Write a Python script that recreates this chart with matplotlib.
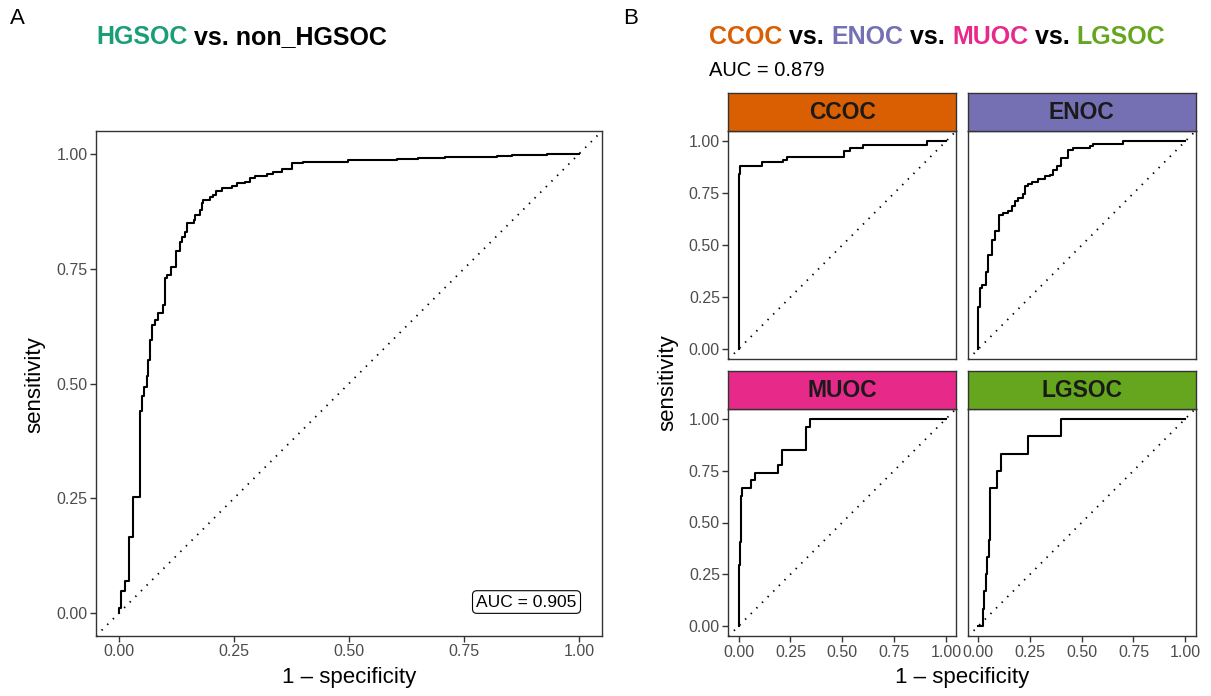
import matplotlib as mpl
mpl.use('Agg')
import matplotlib.pyplot as plt

mpl.rc('font', family=['Liberation Sans', 'DejaVu Sans'])

# ROC curves (1 - specificity, sensitivity)
hgsoc_fpr = [0, 0, 0.004, 0.013, 0.022, 0.031, 0.046, 0.051, 0.054, 0.060, 0.064,
             0.067, 0.072, 0.078, 0.085, 0.096, 0.100, 0.105, 0.112, 0.124, 0.133,
             0.137, 0.143, 0.147, 0.162, 0.165, 0.175, 0.180, 0.183, 0.198, 0.205,
             0.211, 0.223, 0.245, 0.256, 0.274, 0.285, 0.296, 0.321, 0.335, 0.354,
             0.375, 0.401, 0.455, 0.498, 0.604, 0.651, 0.709, 0.821, 0.854, 0.930, 1.0]
hgsoc_tpr = [0, 0.011, 0.048, 0.070, 0.166, 0.253, 0.441, 0.473, 0.493, 0.517, 0.551,
             0.595, 0.627, 0.638, 0.653, 0.671, 0.729, 0.736, 0.754, 0.789, 0.809,
             0.820, 0.831, 0.849, 0.856, 0.867, 0.878, 0.893, 0.900, 0.906, 0.911,
             0.919, 0.925, 0.930, 0.936, 0.940, 0.947, 0.952, 0.956, 0.961, 0.967,
             0.980, 0.982, 0.983, 0.986, 0.989, 0.992, 0.994, 0.996, 0.998, 1.0, 1.0]

ccoc_fpr = [0, 0, 0.005, 0.114, 0.214, 0.233, 0.507, 0.536, 0.600, 0.907, 1.0]
ccoc_tpr = [0, 0.843, 0.883, 0.899, 0.912, 0.927, 0.955, 0.966, 0.982, 1.0, 1.0]

enoc_fpr = [0, 0, 0.008, 0.019, 0.036, 0.048, 0.068, 0.081, 0.100, 0.121,
            0.145, 0.162, 0.178, 0.194, 0.215, 0.226, 0.242, 0.261, 0.290, 0.323,
            0.347, 0.360, 0.379, 0.399, 0.435, 0.460, 0.540, 0.552, 0.701, 1.0]
enoc_tpr = [0, 0.203, 0.294, 0.310, 0.371, 0.451, 0.523, 0.566, 0.647, 0.656,
            0.667, 0.688, 0.711, 0.726, 0.747, 0.784, 0.795, 0.803, 0.819, 0.832,
            0.839, 0.863, 0.883, 0.918, 0.959, 0.968, 0.979, 0.987, 1.0, 1.0]

muoc_fpr = [0, 0, 0.005, 0.010, 0.016, 0.061, 0.081, 0.190, 0.211, 0.324, 0.343, 1.0]
muoc_tpr = [0, 0.296, 0.407, 0.630, 0.667, 0.704, 0.741, 0.778, 0.852, 0.963, 1.0, 1.0]

lgsoc_fpr = [0, 0.021, 0.028, 0.037, 0.044, 0.053, 0.057, 0.089, 0.110, 0.239, 0.402, 1.0]
lgsoc_tpr = [0, 0.083, 0.167, 0.250, 0.333, 0.417, 0.667, 0.750, 0.833, 0.917, 1.0, 1.0]

auc_a = 0.905
auc_b = 0.879

ticks = [0, 0.25, 0.5, 0.75, 1.0]
tick_labels = ['0.00', '0.25', '0.50', '0.75', '1.00']

cols = {'HGSOC': '#1B9E77', 'CCOC': '#D95F02', 'ENOC': '#7570B3',
        'MUOC': '#E7298A', 'LGSOC': '#66A61E'}

W, H = 1211, 696
fig = plt.figure(figsize=(W/100, H/100), dpi=100)

def box(x0, y0, x1, y1):
    # pixel box (top-left origin) -> figure fraction rect
    return [x0/W, 1 - y1/H, (x1-x0)/W, (y1-y0)/H]

border = '#333333'

def roc_axes(ax, fpr, tpr, xt=True, yt=True):
    ax.axline((0, 0), (1, 1), color='black', lw=1.3, ls=(0, (0.8, 3.6)))
    ax.step(fpr, tpr, where='post', color='black', lw=1.5)
    ax.set(xlim=(-0.05, 1.05), ylim=(-0.05, 1.05))
    for s in ax.spines.values():
        s.set_color(border)
        s.set_linewidth(1.0)
    ax.tick_params(length=4, width=1.0, color=border, labelcolor='#4D4D4D',
                   labelsize=11.5, pad=2)
    if xt:
        ax.set_xticks(ticks, tick_labels)
    else:
        ax.set_xticks([])
    if yt:
        ax.set_yticks(ticks, tick_labels)
    else:
        ax.set_yticks([])

def color_title(x, y, parts, **kw):
    r = fig.canvas.get_renderer()
    for s, c in parts:
        t = fig.text(x, y, s, color=c, **kw)
        x += t.get_window_extent(r).width / fig.bbox.width

# Panel A
axA = fig.add_axes(box(96, 131, 602, 636))
roc_axes(axA, hgsoc_fpr, hgsoc_tpr)
axA.text(0.995, 0.024, f'AUC = {auc_a:.3f}', ha='right', va='center', fontsize=12.5,
         bbox=dict(boxstyle='round,pad=0.22,rounding_size=0.25', fc='white', ec='black', lw=0.8))
fig.text(349/W, 1 - 678/H, '1 \u2013 specificity', ha='center', va='center', fontsize=16)
fig.text(35/W, 1 - 385/H, 'sensitivity', ha='center', va='center', rotation=90, fontsize=16)
fig.text(10/W, 1 - 18/H, 'A', ha='left', va='center', fontsize=16)
color_title(96/W, 1 - 37/H, [('HGSOC', cols['HGSOC']), (' vs. non_HGSOC', 'black')],
            fontsize=18, fontweight='bold', va='center')

# Panel B facets
facets = [('CCOC', ccoc_fpr, ccoc_tpr, 728.3, 956.2, 131, 359.4, False, True),
          ('ENOC', enoc_fpr, enoc_tpr, 968, 1195.5, 131, 359.4, False, False),
          ('MUOC', muoc_fpr, muoc_tpr, 728.3, 956.2, 408.6, 636.4, True, True),
          ('LGSOC', lgsoc_fpr, lgsoc_tpr, 968, 1195.5, 408.6, 636.4, True, False)]
for name, fpr, tpr, x0, x1, y0, y1, xt, yt in facets:
    ax = fig.add_axes(box(x0, y0, x1, y1))
    roc_axes(ax, fpr, tpr, xt, yt)
    sax = fig.add_axes(box(x0, y0 - 37.7, x1, y0))
    sax.set_facecolor(cols[name])
    sax.set_xticks([])
    sax.set_yticks([])
    for s in sax.spines.values():
        s.set_color(border)
        s.set_linewidth(1.0)
    sax.text(0.5, 0.48, name, ha='center', va='center', fontsize=16.5,
             fontweight='bold', color='#1A1A1A', transform=sax.transAxes)

fig.text(962/W, 1 - 678/H, '1 \u2013 specificity', ha='center', va='center', fontsize=16)
fig.text(668/W, 1 - 383/H, 'sensitivity', ha='center', va='center', rotation=90, fontsize=16)
fig.text(623/W, 1 - 18/H, 'B', ha='left', va='center', fontsize=16)
color_title(709/W, 1 - 37/H,
            [('CCOC', cols['CCOC']), (' vs. ', 'black'), ('ENOC', cols['ENOC']),
             (' vs. ', 'black'), ('MUOC', cols['MUOC']), (' vs. ', 'black'),
             ('LGSOC', cols['LGSOC'])],
            fontsize=18, fontweight='bold', va='center')
fig.text(709/W, 1 - 71/H, f'AUC = {auc_b:.3f}', ha='left', va='center', fontsize=14.5)

fig.savefig('out.png', dpi=100)
